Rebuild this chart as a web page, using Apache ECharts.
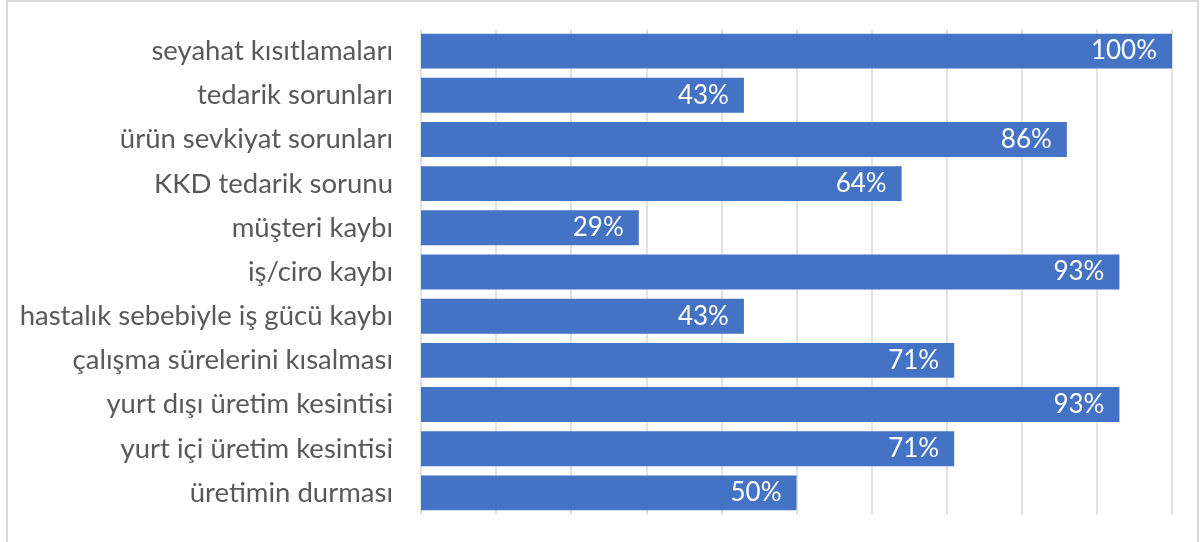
<!DOCTYPE html>
<html>
<head>
<meta charset="utf-8">
<script src="https://cdn.jsdelivr.net/npm/echarts@6/dist/echarts.min.js"></script>
<style>
  html, body { margin: 0; padding: 0; background: #fff; }
  #frame { position: absolute; left: 6px; top: 0; width: 1193px; height: 560px; border: 2px solid #d9d9d9; box-sizing: border-box; }
  #chart { position: absolute; left: 0; top: 0; width: 1203px; height: 542px; }
</style>
</head>
<body>
<div id="frame"></div>
<div id="chart"></div>
<script>
// kategoriler (yukarıdan aşağıya)
const categories = [
  'seyahat kısıtlamaları',
  'tedarik sorunları',
  'ürün sevkiyat sorunları',
  'KKD tedarik sorunu',
  'müşteri kaybı',
  'iş/ciro kaybı',
  'hastalık sebebiyle iş gücü kaybı',
  'çalışma sürelerini kısalması',
  'yurt dışı üretim kesintisi',
  'yurt içi üretim kesintisi',
  'üretimin durması'
];
const values = [100, 43, 86, 64, 29, 93, 43, 71, 93, 71, 50];

let myChart = echarts.init(document.getElementById('chart'));
myChart.setOption({
  animation: false,
  textStyle: { fontFamily: 'Lato' },
  grid: { left: 421, right: 31, top: 29, bottom: 27, containLabel: false },
  xAxis: {
    type: 'value',
    min: 0,
    max: 100,
    interval: 10,
    axisLabel: { show: false },
    axisLine: { show: false },
    axisTick: { show: false },
    splitLine: { lineStyle: { color: '#d9d9d9', width: 1.5 } }
  },
  yAxis: {
    type: 'category',
    data: categories,
    inverse: true,
    axisLine: { show: false },
    axisTick: { show: false },
    axisLabel: { color: '#595959', fontSize: 27.5, margin: 28 }
  },
  series: [{
    type: 'bar',
    data: values,
    barCategoryGap: '21%',
    itemStyle: { color: '#4472c4' },
    label: {
      show: true,
      position: 'insideRight',
      distance: 15,
      color: '#fff',
      fontSize: 26,
      formatter: '{c}%'
    }
  }]
});
</script>
</body>
</html>
